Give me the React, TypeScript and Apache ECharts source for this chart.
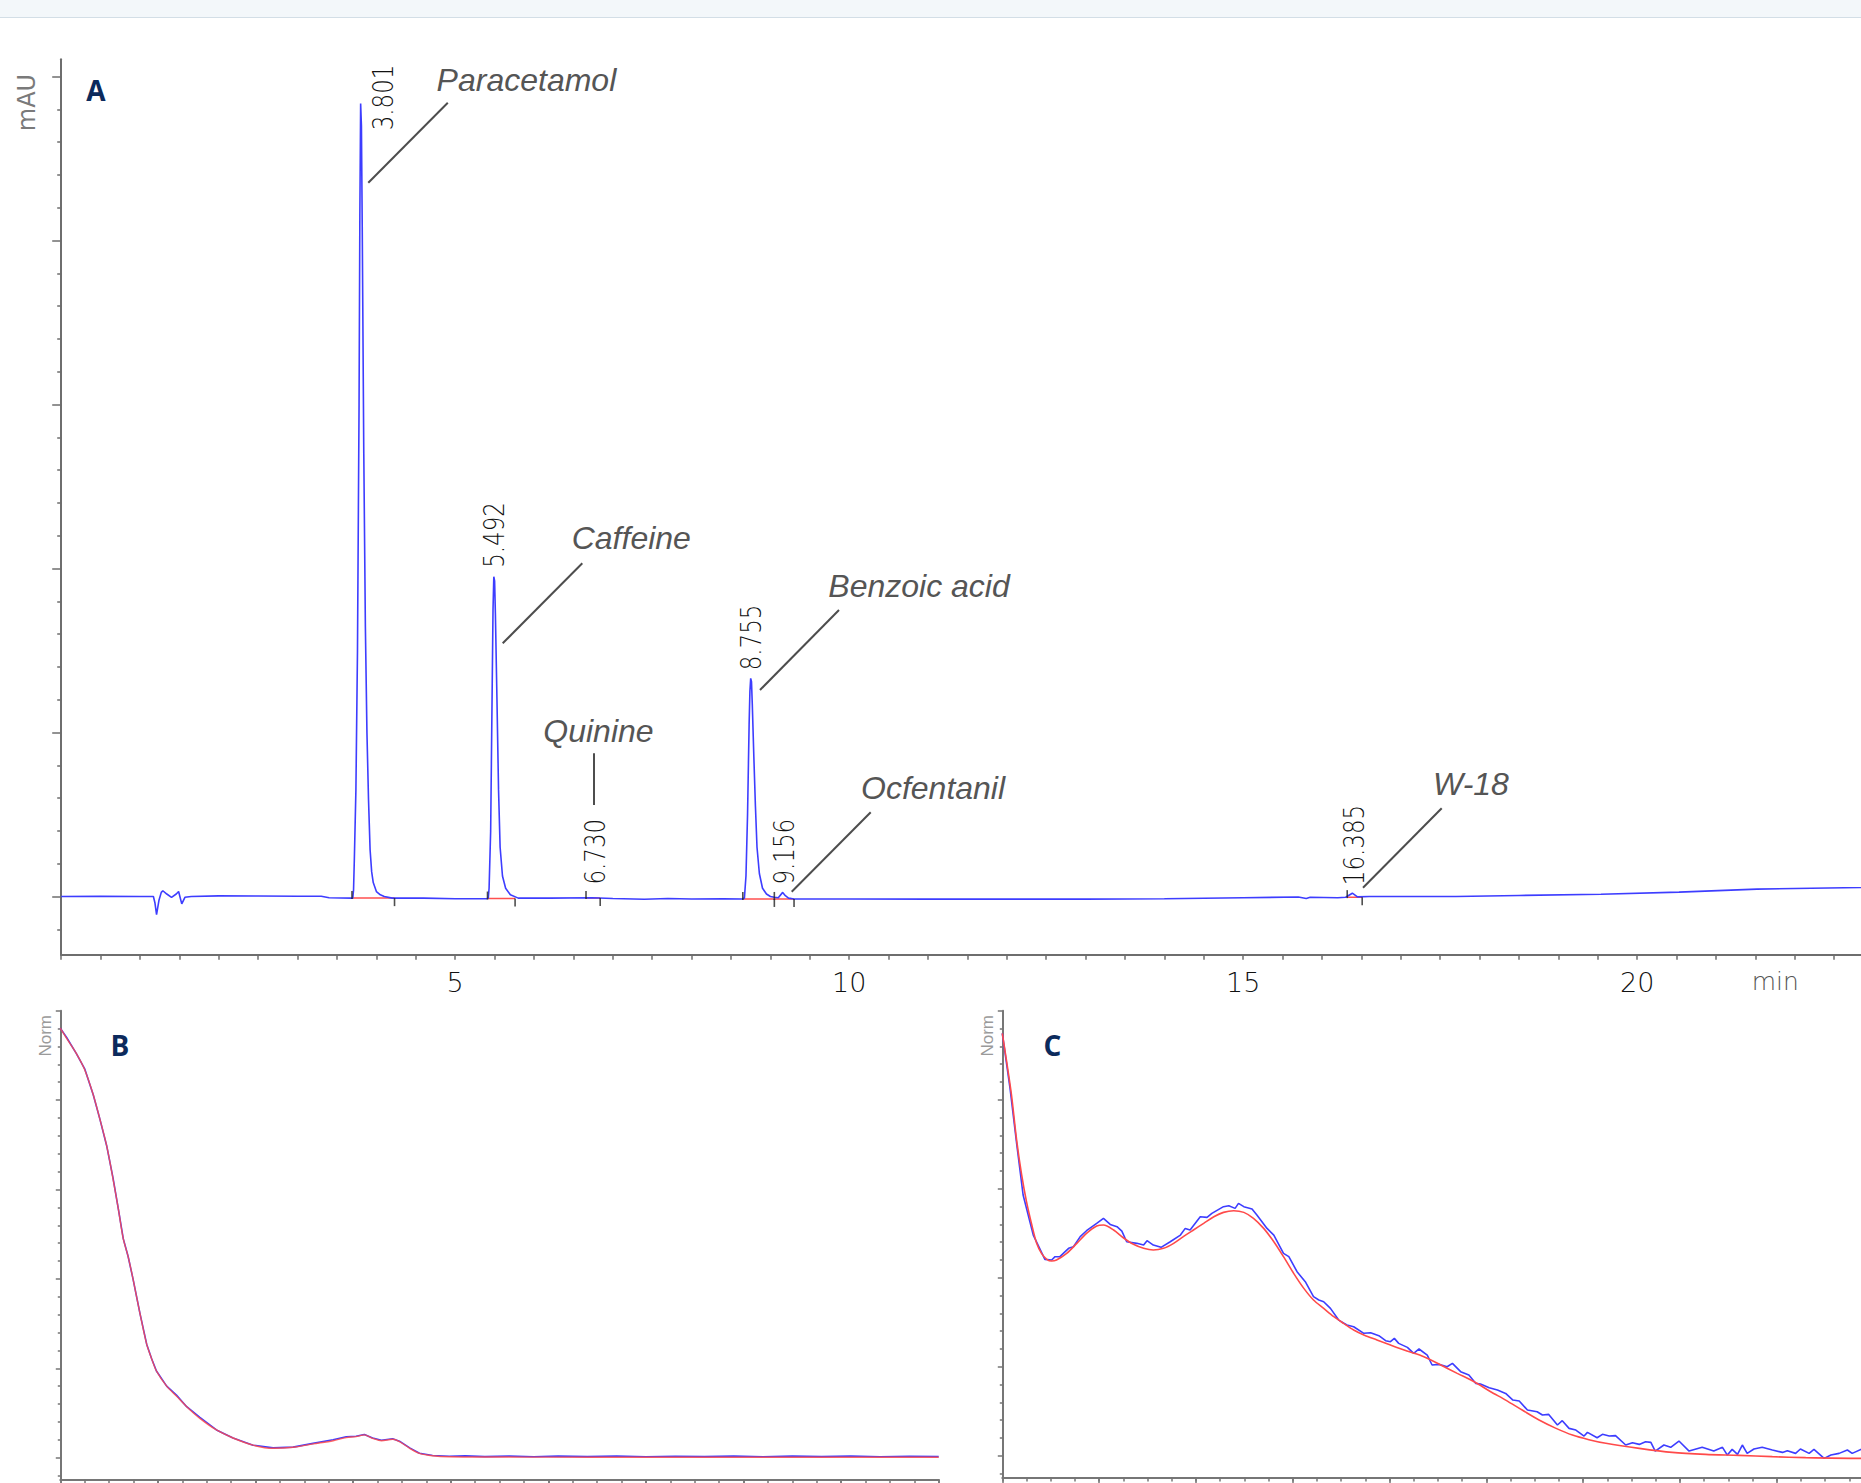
import React, { useEffect, useRef } from "react";
import * as echarts from "echarts";

// ---------- Chromatogram A (time in min, absorbance in mAU) ----------
const traceA: number[][] = [
  [0, 0], [0.5, 0.2], [1.0, 0], [1.17, 0], [1.19, -8], [1.21, -22], [1.24, -5], [1.27, 5], [1.29, 7],
  [1.34, 3], [1.4, -1], [1.46, 3], [1.49, 6], [1.53, -9], [1.57, -1], [1.65, 0], [2.0, 0.8], [2.5, 0.6],
  [3.0, 0.2], [3.3, 0.3], [3.4, -1.5], [3.69, -2],
  [3.7, -2], [3.71, 8], [3.72, 45], [3.74, 130], [3.76, 300], [3.78, 600], [3.79, 830], [3.8, 967],
  [3.81, 940], [3.82, 820], [3.84, 540], [3.86, 330], [3.88, 200], [3.9, 118], [3.92, 57], [3.94, 30],
  [3.96, 17], [4.0, 6], [4.05, 2], [4.1, 0], [4.2, -2], [4.6, -2], [5.0, -2.7], [5.4, -2.7],
  [5.42, -2], [5.43, 10], [5.45, 80], [5.47, 260], [5.48, 350], [5.49, 390], [5.5, 385], [5.51, 345],
  [5.53, 240], [5.55, 130], [5.57, 60], [5.6, 25], [5.64, 10], [5.7, 2], [5.8, -2], [6.2, -2],
  [6.73, -1.5], [7.0, -2.5], [7.4, -3.3], [7.7, -2.5], [8.0, -3], [8.4, -2.8], [8.64, -3],
  [8.67, -2], [8.69, 25], [8.71, 100], [8.73, 210], [8.74, 250], [8.75, 266], [8.76, 262], [8.77, 235],
  [8.79, 170], [8.81, 110], [8.83, 60], [8.86, 28], [8.9, 10], [8.95, 3], [9.0, 0], [9.05, -1],
  [9.1, -1.5], [9.156, 5], [9.19, 1], [9.23, -2], [9.3, -3], [10, -3], [11, -3.2], [12, -3.2],
  [13, -3.2], [14, -2.8], [15, -1.5], [15.7, -0.7], [15.8, -2.4], [15.85, -1], [16.2, -1.5], [16.3, -1],
  [16.385, 4], [16.45, -0.5], [16.6, 0], [17.7, 0], [18.5, 1.2], [19.54, 2.8], [20.53, 5.3],
  [21.52, 9], [22.84, 11], [23, 11.3],
];

const compounds = ["Paracetamol", "Caffeine", "Quinine", "Benzoic acid", "Ocfentanil", "W-18"];
const retentionTimes = ["3.801", "5.492", "6.730", "8.755", "9.156", "16.385"];
const peakStart = [3.69, 5.41, 6.66, 8.65, 9.05, 16.32];
const peakEnd = [4.23, 5.76, 6.84, 9.05, 9.3, 16.51];
const peakBase = [-2, -2.5, -2, -3, -3, -0.8];

const xTicksA = [5, 10, 15, 20];
const yMajorA = [0, 200, 400, 600, 800, 1000];
const yMinorA = [-40, 40, 80, 120, 160, 240, 280, 320, 360, 440, 480, 520, 560, 640, 680, 720, 760, 840, 880, 920, 960];

// ---------- UV spectra B and C (wavelength nm, normalised) ----------
const specBRed: number[][] = [
  [200, 4.805], [201.3, 4.69], [203.3, 4.52], [205, 4.34], [206.75, 4.06], [208.1, 3.79], [209.5, 3.49],
  [210.8, 3.12], [211.9, 2.78], [212.9, 2.45], [213.9, 2.25], [214.9, 2.0], [216.3, 1.62], [217.7, 1.27],
  [218.7, 1.11], [219.7, 0.97], [221.8, 0.8], [223.8, 0.69], [225.9, 0.57], [228.6, 0.44], [232, 0.31],
  [235.4, 0.22], [239.5, 0.14], [243.6, 0.105], [247.7, 0.116], [251.8, 0.154], [255.9, 0.19],
  [258.6, 0.225], [260.6, 0.236], [262.3, 0.255], [264, 0.217], [265.8, 0.19], [268.1, 0.206],
  [269.5, 0.18], [271.6, 0.105], [273.6, 0.049], [276.3, 0.022], [279.7, 0.011], [290, 0.008],
  [300, 0.006], [320, 0.005], [340, 0.005], [360, 0.005], [380, 0.005],
];
const specBBlue: number[][] = [
  [200, 4.805], [201.3, 4.7], [203.3, 4.52], [205, 4.35], [206.75, 4.06], [208.1, 3.79], [209.5, 3.49],
  [210.8, 3.13], [211.9, 2.78], [212.9, 2.45], [213.9, 2.25], [214.9, 2.0], [216.3, 1.62], [217.7, 1.27],
  [218.7, 1.11], [219.7, 0.97], [221.8, 0.8], [223.8, 0.7], [225.9, 0.57], [228.6, 0.45], [232, 0.31],
  [235.4, 0.22], [239.5, 0.14], [243.6, 0.11], [247.7, 0.118], [251.8, 0.16], [255.9, 0.2],
  [258.6, 0.235], [260.6, 0.24], [262.3, 0.26], [264, 0.22], [265.8, 0.195], [268.1, 0.212],
  [269.5, 0.185], [271.6, 0.11], [273.6, 0.05], [276.3, 0.025], [279.7, 0.016], [283, 0.02], [287, 0.012],
  [292, 0.018], [297, 0.01], [302, 0.017], [308, 0.012], [314, 0.019], [320, 0.01], [326, 0.016],
  [332, 0.012], [338, 0.018], [344, 0.011], [350, 0.017], [356, 0.012], [362, 0.019], [368, 0.011],
  [374, 0.016], [380, 0.012],
];
const specCRed: number[][] = [
  [200, 4.745], [200.9, 4.427], [201.9, 4.052], [203, 3.528], [204, 3.154], [205, 2.854], [206.1, 2.592],
  [207.1, 2.386], [208.1, 2.273], [209.2, 2.206], [210.2, 2.187], [211.2, 2.199], [213.3, 2.273],
  [215.4, 2.386], [217.4, 2.498], [219.5, 2.581], [220.9, 2.592], [223, 2.536], [225, 2.449],
  [227.1, 2.375], [229.2, 2.33], [231.2, 2.311], [233.3, 2.33], [235.4, 2.386], [237.4, 2.461],
  [239.5, 2.536], [241.6, 2.61], [243.7, 2.685], [245.7, 2.734], [247.8, 2.753], [249.9, 2.734],
  [251.9, 2.667], [254, 2.554], [256.1, 2.404], [258.1, 2.236], [260.2, 2.049], [262.3, 1.88],
  [264.3, 1.749], [266.4, 1.655], [268.5, 1.562], [270.5, 1.487], [272.6, 1.412], [274.7, 1.356],
  [277.4, 1.3], [280.2, 1.243], [283.6, 1.176], [287.1, 1.112], [290.6, 1.019], [294, 0.925],
  [297.5, 0.831], [300.9, 0.719], [304, 0.625], [307.5, 0.51], [310.9, 0.401], [314.3, 0.31],
  [317.8, 0.232], [321.2, 0.18], [324.7, 0.139], [331.6, 0.082], [338.4, 0.037], [345.3, 0.015],
  [352.2, 0.004], [359.1, -0.011], [366, -0.022], [377.4, -0.03], [380, -0.03],
];
const specCBlue: number[][] = [
  [200, 4.745], [201.6, 4.127], [203, 3.491], [204.3, 2.929], [206.4, 2.479], [208.8, 2.206],
  [210.2, 2.199], [210.9, 2.236], [211.9, 2.236], [213.7, 2.33], [214.7, 2.348], [216.1, 2.461],
  [217.4, 2.528], [219.5, 2.61], [220.9, 2.667], [222.3, 2.599], [223.7, 2.573], [224.7, 2.524],
  [225.7, 2.404], [227.8, 2.386], [229.2, 2.367], [229.9, 2.416], [231.2, 2.367], [232.8, 2.341],
  [234.7, 2.404], [236.8, 2.479], [237.8, 2.554], [238.8, 2.536], [240.9, 2.685], [242.3, 2.678],
  [243.3, 2.723], [245.7, 2.798], [246.8, 2.809], [248.1, 2.779], [248.8, 2.835], [249.9, 2.798],
  [251.6, 2.772], [252.6, 2.704], [254.7, 2.554], [256.1, 2.479], [258.1, 2.273], [259.2, 2.236],
  [260.9, 2.067], [262.6, 1.955], [264.3, 1.787], [265.4, 1.749], [266.4, 1.73], [267.8, 1.655],
  [269.5, 1.524], [271.2, 1.468], [272.6, 1.449], [274.7, 1.375], [276.1, 1.382], [277.8, 1.348],
  [279.2, 1.292], [280.2, 1.281], [281, 1.318], [281.9, 1.262], [283.7, 1.217], [285, 1.15],
  [286.1, 1.199], [287.8, 1.131], [288.8, 1.019], [290.2, 1.026], [291.9, 1.0], [293, 1.037],
  [294.7, 0.944], [296.4, 0.906], [297.8, 0.813], [298.8, 0.805], [300.6, 0.764], [302.3, 0.738],
  [304, 0.7], [305.5, 0.625], [306.8, 0.614], [308.5, 0.513], [310.5, 0.494], [311.6, 0.457],
  [312.9, 0.464], [314.7, 0.345], [315.7, 0.393], [317.1, 0.307], [318.5, 0.288], [320.2, 0.221],
  [320.9, 0.262], [322.9, 0.202], [324, 0.24], [325.4, 0.221], [326.7, 0.225], [328.8, 0.12],
  [330.2, 0.146], [331.6, 0.127], [332.9, 0.157], [334, 0.15], [334.9, 0.052], [336.7, 0.12],
  [338.1, 0.094], [339.8, 0.165], [341.9, 0.052], [344.6, 0.094], [347, 0.052], [348.8, 0.094],
  [349.8, 0.007], [350.8, 0.071], [351.9, 0.015], [352.9, 0.12], [353.9, 0.026], [355.3, 0.075],
  [357, 0.094], [359.1, 0.064], [361.2, 0.037], [362.2, 0.056], [363.9, 0.026], [364.9, 0.075],
  [366.7, 0.026], [367.7, 0.071], [369.8, -0.03], [371.2, 0.007], [372.9, 0.026], [374.6, 0.064],
  [375.6, 0.026], [377.4, 0.071], [380, 0.06],
];
const yMajorSpec = [0, 1, 2, 3, 4, 5];
const yMinorSpec = [-0.2, 0.2, 0.4, 0.6, 0.8, 1.2, 1.4, 1.6, 1.8, 2.2, 2.4, 2.6, 2.8, 3.2, 3.4, 3.6, 3.8, 4.2, 4.4, 4.6, 4.8];

// ---------- annotation layout (pixels) ----------
const labelLayout = [
  { rt: [383.3, 97.5], name: [436.6, 79.5], leader: [368.3, 182.7, 447.8, 102.7] },
  { rt: [494.5, 535], name: [571.7, 538.3], leader: [502.7, 643.3, 582.3, 563.3] },
  { rt: [595, 851.7], name: [543.3, 730.8], leader: [594, 753.3, 594, 805] },
  { rt: [751, 637.5], name: [828.3, 585.8], leader: [760, 690, 839, 610] },
  { rt: [784, 851.7], name: [861, 788], leader: [791.7, 891.7, 870.7, 812.3] },
  { rt: [1354, 845], name: [1433, 784], leader: [1363, 887.7, 1441.7, 808.3] },
];

const AXIS = "#6e6e6e";
const MONO = "DejaVu Sans Mono";
const THIN = "DejaVu Sans";

function text(x: number, y: number, t: string, s: any, extra: any = {}) {
  return {
    type: "text",
    x,
    y,
    silent: true,
    ...extra,
    style: {
      text: t,
      align: s.align || "left",
      textAlign: s.align || "left",
      verticalAlign: "middle",
      textVerticalAlign: "middle",
      ...s,
    },
  };
}

function buildOption() {
  const yPair = (grid: number, min: number, max: number, major: number[], minor: number[], majLen: number, minLen: number, color: string) => [
    {
      type: "value", gridIndex: grid, min, max, position: "left",
      axisLine: { show: true, lineStyle: { color, width: 2 } },
      axisTick: { show: true, inside: false, length: majLen, customValues: major, lineStyle: { color, width: 1.5 } },
      axisLabel: { show: false }, splitLine: { show: false },
    },
    {
      type: "value", gridIndex: grid, min, max, position: "left",
      axisLine: { show: false },
      axisTick: { show: true, inside: false, length: minLen, customValues: minor, lineStyle: { color, width: 1.5 } },
      axisLabel: { show: false }, splitLine: { show: false },
    },
  ];
  const specX = (grid: number, interval: number, len: number, showLine: boolean) => ({
    type: "value", gridIndex: grid, min: 200, max: 380, interval, position: "bottom",
    axisLine: { show: showLine, onZero: false, lineStyle: { color: "#767676", width: 2 } },
    axisTick: { show: true, length: len, lineStyle: { color: "#767676", width: 1.5 } },
    axisLabel: { show: false }, splitLine: { show: false },
  });

  const series: any[] = [];
  series.push({
    type: "line", xAxisIndex: 0, yAxisIndex: 0, data: traceA, showSymbol: false, symbol: "none",
    lineStyle: { color: "#3d3dff", width: 1.6 }, z: 3,
  });
  compounds.forEach((c, i) => {
    series.push({
      type: "line", xAxisIndex: 0, yAxisIndex: 0, symbol: "none",
      data: [[peakStart[i], peakBase[i]], [peakEnd[i], peakBase[i]]],
      lineStyle: { color: "#ff4f4f", width: 1.5 }, z: 2,
    });
  });
  series.push({
    type: "scatter", xAxisIndex: 0, yAxisIndex: 0, symbol: "rect", symbolSize: [1.6, 8], symbolOffset: [0, -3],
    data: peakStart.map((s, i) => [s, peakBase[i]]), itemStyle: { color: "#222" }, z: 4, silent: true,
  });
  series.push({
    type: "scatter", xAxisIndex: 0, yAxisIndex: 0, symbol: "rect", symbolSize: [1.6, 8], symbolOffset: [0, 4],
    data: peakEnd.map((s, i) => [s, peakBase[i]]), itemStyle: { color: "#222" }, z: 4, silent: true,
  });
  // spectra
  series.push({ type: "line", xAxisIndex: 1, yAxisIndex: 2, data: specBBlue, symbol: "none", lineStyle: { color: "#3d3dff", width: 1.6 }, z: 2 });
  series.push({ type: "line", xAxisIndex: 1, yAxisIndex: 2, data: specBRed, symbol: "none", smooth: 0.3, lineStyle: { color: "#ff4a4a", width: 1.4, opacity: 0.85 }, z: 3 });
  series.push({ type: "line", xAxisIndex: 3, yAxisIndex: 4, data: specCBlue, symbol: "none", lineStyle: { color: "#3d3dff", width: 1.6 }, z: 2 });
  series.push({ type: "line", xAxisIndex: 3, yAxisIndex: 4, data: specCRed, symbol: "none", smooth: 0.3, lineStyle: { color: "#ff4a4a", width: 1.6 }, z: 3 });

  const graphics: any[] = [
    { type: "rect", shape: { x: 0, y: 0, width: 1861, height: 17 }, style: { fill: "#f3f7fa" }, silent: true },
    { type: "line", shape: { x1: 0, y1: 17.5, x2: 1861, y2: 17.5 }, style: { stroke: "#d3dee6", lineWidth: 1 }, silent: true },
    text(26.8, 102.5, "mAU", { fill: "#7a7a7a", fontSize: 24, fontFamily: "DejaVu Sans", align: "center" }, { rotation: Math.PI / 2 }),
    text(96, 90, "A", { fill: "#0c2a5c", fontSize: 28, fontFamily: "Open Sans", fontWeight: "bold", align: "center" }),
    text(120, 1045, "B", { fill: "#0c2a5c", fontSize: 28, fontFamily: "Open Sans", fontWeight: "bold", align: "center" }),
    text(1052.3, 1045, "C", { fill: "#0c2a5c", fontSize: 28, fontFamily: "Open Sans", fontWeight: "bold", align: "center" }),
    text(45, 1035.8, "Norm", { fill: "#9a9a9a", fontSize: 17, fontFamily: "Liberation Sans", align: "center" }, { rotation: Math.PI / 2 }),
    text(987, 1035.8, "Norm", { fill: "#9a9a9a", fontSize: 17, fontFamily: "Liberation Sans", align: "center" }, { rotation: Math.PI / 2 }),
    text(1775.3, 981.7, "min", { fill: "#555", fontSize: 25, fontFamily: THIN, fontWeight: 200, align: "center" }),
  ];
  labelLayout.forEach((l, i) => {
    graphics.push({
      type: "line", silent: true,
      shape: { x1: l.leader[0], y1: l.leader[1], x2: l.leader[2], y2: l.leader[3] },
      style: { stroke: "#4d4d4d", lineWidth: 2 },
    });
    graphics.push(text(l.name[0], l.name[1], compounds[i], {
      fill: "#555", fontSize: 32, fontFamily: "Liberation Sans", fontStyle: "italic", align: "left",
    }));
    graphics.push(text(l.rt[0], l.rt[1], retentionTimes[i], {
      fill: "#111", fontSize: 28, fontFamily: THIN, fontWeight: 200, align: "center",
    }, { rotation: Math.PI / 2, scaleX: 0.82 }));
  });

  return {
    animation: false,
    backgroundColor: "#ffffff",
    grid: [
      { left: 61.2, top: 59.3, width: 1812.4, height: 895.4, outerBoundsMode: "none", containLabel: false },
      { left: 60.3, top: 1010.7, width: 878.4, height: 468.8, outerBoundsMode: "none", containLabel: false },
      { left: 1002.3, top: 1010.7, width: 871.2, height: 466.8, outerBoundsMode: "none", containLabel: false },
    ],
    xAxis: [
      {
        type: "value", gridIndex: 0, min: 0, max: 23, interval: 0.5, position: "bottom",
        axisLine: { show: true, onZero: false, lineStyle: { color: AXIS, width: 2 } },
        axisTick: { show: true, length: 5, lineStyle: { color: AXIS, width: 1.5 } },
        axisLabel: {
          show: true, margin: 14, fontFamily: THIN, fontWeight: 200, fontSize: 27, color: "#111",
          formatter: (v: number) => (xTicksA.indexOf(v) >= 0 ? String(v) : ""),
        },
        splitLine: { show: false },
      },
      specX(1, 5, 4, true),
      specX(1, 20, 7, false),
      specX(2, 5, 4, true),
      specX(2, 20, 7, false),
    ],
    yAxis: [
      ...yPair(0, -71, 1021, yMajorA, yMinorA, 9, 4, AXIS),
      ...yPair(1, -0.244, 5, yMajorSpec, yMinorSpec, 4.5, 2.5, "#767676"),
      ...yPair(2, -0.245, 5, yMajorSpec, yMinorSpec, 4.5, 2.5, "#767676"),
    ],
    series,
    graphic: { elements: graphics },
  };
}

export default function App() {
  const ref = useRef<HTMLDivElement>(null);
  useEffect(() => {
    document.body.style.margin = "0";
    document.body.style.overflow = "hidden";
    const chart = echarts.init(ref.current as HTMLDivElement, null, { renderer: "svg", width: 1861, height: 1483 });
    chart.setOption(buildOption() as any);
    return () => chart.dispose();
  }, []);
  return (
    <div
      ref={ref}
      style={{ position: "absolute", left: 0, top: 0, width: 1861, height: 1483, overflow: "hidden", background: "#fff" }}
    />
  );
}
